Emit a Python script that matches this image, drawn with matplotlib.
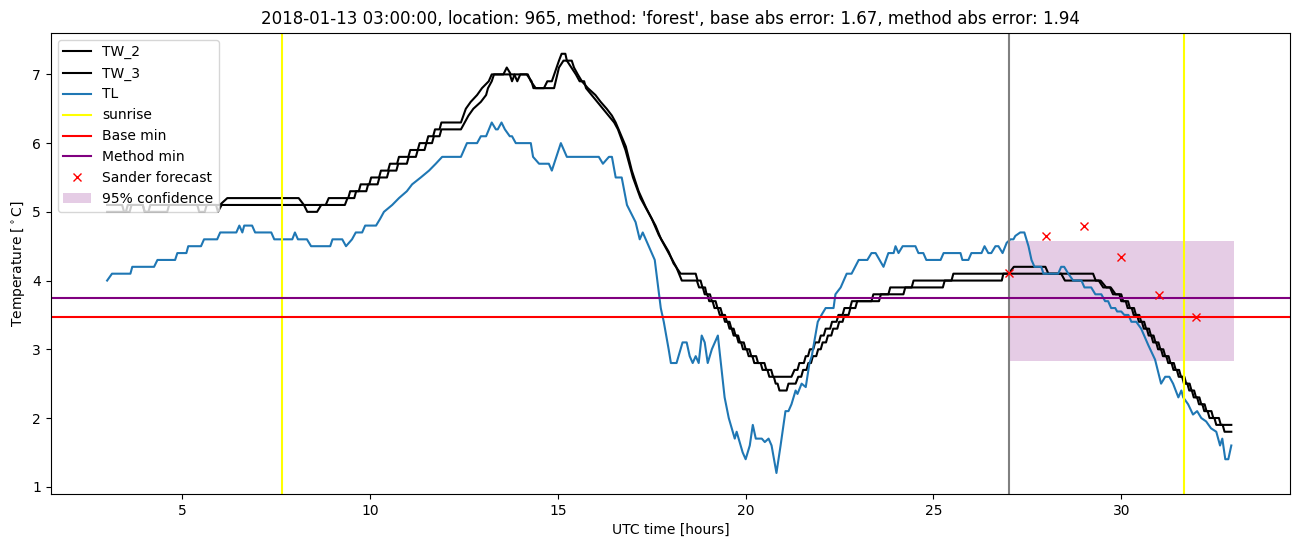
import matplotlib
matplotlib.use("Agg")
import matplotlib.pyplot as plt

# TL (blue) vertices: hours, temperature
tl_hours = [3.00, 3.13, 3.62, 3.67, 4.25, 4.34, 4.81, 4.87, 5.11, 5.16, 5.50, 5.58, 5.93, 6.01,
            6.44, 6.52, 6.60, 6.65, 6.86, 6.94, 7.37, 7.45, 7.93, 8.00, 8.08, 8.32, 8.43, 8.94,
            9.00, 9.26, 9.36, 9.52, 9.62, 9.79, 9.87, 10.16, 10.27, 10.37, 10.59, 10.77, 10.98,
            11.12, 11.35, 11.57, 11.75, 11.92, 12.42, 12.50, 12.58, 12.85, 12.95, 13.09, 13.24,
            13.35, 13.40, 13.50, 13.59, 13.72, 13.78, 13.88, 14.28, 14.34, 14.50, 14.76, 14.84,
            15.08, 15.24, 16.09, 16.20, 16.36, 16.44, 16.54, 16.70, 16.84, 17.07, 17.18, 17.26,
            17.58, 17.74, 17.82, 17.95, 18.01, 18.16, 18.32, 18.43, 18.51, 18.59, 18.67, 18.75,
            18.83, 18.91, 18.99, 19.10, 19.26, 19.34, 19.44, 19.55, 19.71, 19.76, 19.92, 20.00,
            20.11, 20.19, 20.27, 20.43, 20.51, 20.61, 20.69, 20.82, 20.93, 21.06, 21.14, 21.22,
            21.33, 21.38, 21.49, 21.60, 21.70, 21.76, 21.92, 22.02, 22.13, 22.34, 22.39, 22.53,
            22.69, 22.82, 23.01, 23.24, 23.35, 23.46, 23.67, 23.80, 23.94, 23.99, 24.07, 24.18,
            24.52, 24.60, 24.73, 24.81, 25.19, 25.27, 25.72, 25.77, 25.93, 26.01, 26.28, 26.36,
            26.46, 26.54, 26.65, 26.73, 26.84, 26.95, 27.05, 27.13, 27.18, 27.31, 27.42, 27.53,
            27.61, 27.69, 27.87, 27.93, 28.32, 28.40, 28.48, 28.59, 28.72, 28.94, 29.02, 29.20,
            29.31, 29.47, 29.57, 29.65, 29.73, 29.84, 29.89, 30.00, 30.08, 30.19, 30.27, 30.40,
            30.53, 30.72, 30.90, 31.06, 31.17, 31.28, 31.38, 31.52, 31.60, 31.65, 31.78, 31.91,
            32.02, 32.13, 32.26, 32.39, 32.53, 32.63, 32.69, 32.77, 32.85, 32.93]
tl_temp = [4.0, 4.1, 4.1, 4.2, 4.2, 4.3, 4.3, 4.4, 4.4, 4.5, 4.5, 4.6, 4.6, 4.7,
           4.7, 4.8, 4.7, 4.8, 4.8, 4.7, 4.7, 4.6, 4.6, 4.7, 4.6, 4.6, 4.5, 4.5,
           4.6, 4.6, 4.5, 4.6, 4.7, 4.7, 4.8, 4.8, 4.9, 5.0, 5.1, 5.2, 5.3,
           5.4, 5.5, 5.6, 5.7, 5.8, 5.8, 5.9, 6.0, 6.0, 6.1, 6.1, 6.3,
           6.2, 6.2, 6.3, 6.2, 6.1, 6.1, 6.0, 6.0, 5.8, 5.7, 5.7, 5.6,
           6.0, 5.8, 5.8, 5.7, 5.8, 5.8, 5.5, 5.5, 5.1, 4.85, 4.6, 4.7,
           4.3, 3.6, 3.4, 3.0, 2.8, 2.8, 3.1, 3.1, 2.9, 2.8, 2.9, 2.8,
           3.2, 3.1, 2.8, 3.0, 3.2, 2.8, 2.3, 2.0, 1.7, 1.8, 1.5, 1.4,
           1.6, 1.9, 1.7, 1.7, 1.65, 1.7, 1.6, 1.2, 1.6, 2.1, 2.1, 2.2,
           2.4, 2.35, 2.5, 2.45, 2.8, 2.9, 3.4, 3.5, 3.6, 3.6, 3.8, 3.9,
           4.1, 4.1, 4.3, 4.3, 4.4, 4.4, 4.2, 4.4, 4.4, 4.5, 4.4, 4.5,
           4.5, 4.4, 4.4, 4.3, 4.3, 4.4, 4.4, 4.3, 4.3, 4.4, 4.4, 4.5,
           4.4, 4.4, 4.5, 4.5, 4.4, 4.55, 4.6, 4.6, 4.65, 4.7, 4.7, 4.5,
           4.3, 4.2, 4.2, 4.1, 4.1, 4.2, 4.2, 4.1, 4.0, 4.0, 3.9, 3.9,
           3.8, 3.8, 3.7, 3.7, 3.6, 3.6, 3.55, 3.55, 3.5, 3.5, 3.4, 3.4,
           3.3, 3.06, 2.85, 2.5, 2.6, 2.6, 2.5, 2.3, 2.4, 2.3, 2.2, 2.05,
           2.1, 2.0, 1.95, 1.85, 1.8, 1.6, 1.7, 1.4, 1.4, 1.6]

# TW_2 vertices
tw2_hours = [3.00, 3.40, 3.45, 3.60, 3.65, 3.95, 4.00, 4.10, 4.15, 5.40, 5.45, 5.60, 5.65, 6.00,
             6.20, 8.10, 8.24, 8.82, 8.90, 9.42, 9.47, 9.70, 9.75, 9.98, 10.03, 10.24, 10.29,
             10.48, 10.53, 10.72, 10.77, 11.02, 11.07, 11.27, 11.32, 11.50, 11.55, 11.68, 11.73,
             11.85, 11.90, 12.42, 12.55, 12.68, 12.85, 12.98, 13.16, 13.24, 13.55, 13.64, 13.75,
             13.84, 13.92, 14.00, 14.20, 14.28, 14.41, 14.63, 14.72, 14.84, 15.03, 15.10, 15.20,
             15.24, 15.37, 15.43, 15.53, 15.64, 15.80, 16.00, 16.14, 16.30, 16.44, 16.54, 16.81,
             16.97, 17.15, 17.34, 17.50, 17.69, 17.95, 18.08, 18.27, 18.67, 18.72, 18.80, 18.85,
             18.92, 18.96, 19.05, 19.10, 19.20, 19.25, 19.33, 19.38, 19.45, 19.50, 19.57, 19.62,
             19.68, 19.73, 19.80, 19.85, 19.95, 20.00, 20.10, 20.15, 20.28, 20.33, 20.50, 20.55,
             20.68, 20.73, 21.22, 21.30, 21.38, 21.43, 21.55, 21.60, 21.66, 21.71, 21.80, 21.85,
             21.95, 22.00, 22.08, 22.13, 22.25, 22.30, 22.42, 22.47, 22.58, 22.63, 22.78, 22.83,
             23.35, 23.40, 23.80, 23.85, 24.42, 24.47, 25.48, 25.53, 27.00, 27.14, 27.98, 28.06,
             28.40, 28.50, 29.40, 29.52, 29.70, 29.78, 30.00, 30.05, 30.18, 30.23, 30.34, 30.39,
             30.48, 30.53, 30.61, 30.66, 30.74, 30.79, 30.86, 30.91, 30.99, 31.04, 31.12, 31.17,
             31.26, 31.31, 31.40, 31.45, 31.54, 31.59, 31.68, 31.73, 31.82, 31.87, 31.94, 31.99,
             32.08, 32.13, 32.22, 32.27, 32.40, 32.45, 32.60, 32.65, 32.93]
tw2_temp = [5.1, 5.1, 5.0, 5.0, 5.1, 5.1, 5.0, 5.0, 5.1, 5.1, 5.0, 5.0, 5.1, 5.1,
            5.2, 5.2, 5.1, 5.1, 5.2, 5.2, 5.3, 5.3, 5.4, 5.4, 5.5, 5.5, 5.6,
            5.6, 5.7, 5.7, 5.8, 5.8, 5.9, 5.9, 6.0, 6.0, 6.1, 6.1, 6.2,
            6.2, 6.3, 6.3, 6.5, 6.6, 6.7, 6.8, 6.9, 7.0, 7.0, 7.1, 7.0,
            7.0, 6.9, 7.0, 7.0, 6.9, 6.8, 6.8, 6.9, 6.9, 7.2, 7.3, 7.3,
            7.2, 7.2, 7.1, 7.0, 6.9, 6.8, 6.7, 6.6, 6.5, 6.4, 6.3, 5.95,
            5.6, 5.3, 5.07, 4.9, 4.66, 4.42, 4.25, 4.1, 4.1, 4.0, 4.0, 3.9,
            3.9, 3.8, 3.8, 3.7, 3.7, 3.6, 3.6, 3.5, 3.5, 3.4, 3.4, 3.3,
            3.3, 3.2, 3.2, 3.1, 3.1, 3.0, 3.0, 2.9, 2.9, 2.8, 2.8, 2.7,
            2.7, 2.6, 2.6, 2.7, 2.7, 2.8, 2.8, 2.9, 2.9, 3.0, 3.0, 3.1,
            3.1, 3.2, 3.2, 3.3, 3.3, 3.4, 3.4, 3.5, 3.5, 3.6, 3.6, 3.7,
            3.7, 3.8, 3.8, 3.9, 3.9, 4.0, 4.0, 4.1, 4.1, 4.2, 4.2, 4.1,
            4.1, 4.0, 4.0, 3.9, 3.9, 3.8, 3.8, 3.7, 3.7, 3.6, 3.6, 3.5,
            3.5, 3.4, 3.4, 3.3, 3.3, 3.2, 3.2, 3.1, 3.1, 3.0, 3.0, 2.9,
            2.9, 2.8, 2.8, 2.7, 2.7, 2.6, 2.6, 2.5, 2.5, 2.4, 2.4, 2.3,
            2.3, 2.2, 2.2, 2.1, 2.1, 2.0, 2.0, 1.9, 1.9]

# TW_3 vertices
tw3_hours = [3.00, 3.50, 3.55, 3.95, 4.00, 4.60, 4.65, 5.90, 5.95, 6.05, 8.24, 8.33, 8.59, 8.70,
             9.33, 9.40, 9.58, 9.63, 9.90, 9.95, 10.20, 10.25, 10.45, 10.50, 10.70, 10.75, 10.98,
             11.03, 11.22, 11.27, 11.45, 11.50, 11.65, 11.70, 11.85, 11.90, 12.42, 12.62,
             12.75, 12.95, 13.09, 13.14, 13.24, 13.30, 13.72, 13.78, 13.85, 14.17, 14.30, 14.35,
             14.90, 15.03, 15.15, 15.24, 15.36, 15.48, 15.58, 15.70, 15.75, 15.90, 16.05, 16.20,
             16.35, 16.50, 16.60, 16.80, 17.00, 17.20, 17.40, 17.60, 17.75, 18.00, 18.15, 18.30,
             18.70, 18.76, 18.86, 18.91, 18.98, 19.03, 19.12, 19.17, 19.26, 19.31, 19.40, 19.45,
             19.52, 19.57, 19.63, 19.68, 19.76, 19.81, 19.88, 19.93, 20.03, 20.08, 20.18, 20.23,
             20.40, 20.45, 20.58, 20.63, 20.75, 20.80, 20.85, 20.90, 21.09, 21.14, 21.33, 21.40,
             21.48, 21.53, 21.62, 21.67, 21.74, 21.79, 21.88, 21.93, 22.00, 22.05, 22.14, 22.19,
             22.28, 22.33, 22.44, 22.49, 22.58, 22.63, 22.74, 22.79, 22.92, 22.97, 23.55, 23.60,
             24.20, 24.25, 25.25, 25.30, 26.82, 26.86, 29.25, 29.32, 29.45, 29.60, 29.72, 29.85,
             29.95, 30.00, 30.12, 30.17, 30.28, 30.33, 30.42, 30.47, 30.55, 30.60, 30.68, 30.73,
             30.80, 30.85, 30.93, 30.98, 31.06, 31.11, 31.20, 31.25, 31.34, 31.39, 31.48, 31.53,
             31.62, 31.67, 31.76, 31.81, 31.88, 31.93, 32.02, 32.07, 32.16, 32.21, 32.30, 32.35,
             32.48, 32.53, 32.70, 32.75, 32.93]
tw3_temp = [5.0, 5.0, 5.1, 5.1, 5.0, 5.0, 5.1, 5.1, 5.0, 5.1, 5.1, 5.0, 5.0, 5.1,
            5.1, 5.2, 5.2, 5.3, 5.3, 5.4, 5.4, 5.5, 5.5, 5.6, 5.6, 5.7, 5.7,
            5.8, 5.8, 5.9, 5.9, 6.0, 6.0, 6.1, 6.1, 6.2, 6.2, 6.4,
            6.5, 6.6, 6.7, 6.8, 6.9, 7.0, 7.0, 6.9, 7.0, 7.0, 6.9, 6.8,
            6.8, 7.1, 7.2, 7.2, 7.1, 7.0, 6.9, 6.9, 6.8, 6.7, 6.6, 6.5,
            6.4, 6.3, 6.2, 5.9, 5.5, 5.2, 5.0, 4.8, 4.6, 4.35, 4.2, 4.0,
            4.0, 3.9, 3.9, 3.8, 3.8, 3.7, 3.7, 3.6, 3.6, 3.5, 3.5, 3.4,
            3.4, 3.3, 3.3, 3.2, 3.2, 3.1, 3.1, 3.0, 3.0, 2.9, 2.9, 2.8,
            2.8, 2.7, 2.7, 2.6, 2.6, 2.5, 2.5, 2.4, 2.4, 2.5, 2.5, 2.6,
            2.6, 2.7, 2.7, 2.8, 2.8, 2.9, 2.9, 3.0, 3.0, 3.1, 3.1, 3.2,
            3.2, 3.3, 3.3, 3.4, 3.4, 3.5, 3.5, 3.6, 3.6, 3.7, 3.7, 3.8,
            3.8, 3.9, 3.9, 4.0, 4.0, 4.1, 4.1, 4.0, 4.0, 3.9, 3.9, 3.8,
            3.8, 3.7, 3.7, 3.6, 3.6, 3.5, 3.5, 3.4, 3.4, 3.3, 3.3, 3.2,
            3.2, 3.1, 3.1, 3.0, 3.0, 2.9, 2.9, 2.8, 2.8, 2.7, 2.7, 2.6,
            2.6, 2.5, 2.5, 2.4, 2.4, 2.3, 2.3, 2.2, 2.2, 2.1, 2.1, 2.0,
            2.0, 1.9, 1.9, 1.8, 1.8]

sunrise_hours = [7.66, 31.66]
forecast_start = 27
base_min = 3.47
method_min = 3.74
sander_hours = [27, 28, 29, 30, 31, 32]
sander_temp = [4.11, 4.65, 4.79, 4.34, 3.79, 3.47]
conf_hours = [27, 33]
conf_low = 2.83
conf_high = 4.57

fig, ax = plt.subplots(figsize=(13.02, 5.47), dpi=100)
fig.subplots_adjust(left=0.039, right=0.991, top=0.94, bottom=0.097)

ax.plot(tw2_hours, tw2_temp, color='black', label='TW_2')
ax.plot(tw3_hours, tw3_temp, color='black', label='TW_3')
ax.plot(tl_hours, tl_temp, color='tab:blue', label='TL')
ax.axvline(sunrise_hours[0], color='yellow', label='sunrise')
ax.axvline(sunrise_hours[1], color='yellow')
ax.axvline(forecast_start, color='gray')
ax.axhline(base_min, color='red', label='Base min')
ax.axhline(method_min, color='purple', label='Method min')
ax.plot(sander_hours, sander_temp, 'rx', label='Sander forecast')
ax.fill_between(conf_hours, conf_low, conf_high, color='purple', alpha=0.2,
                linewidth=0, label='95% confidence')

ax.set_title("2018-01-13 03:00:00, location: 965, method: 'forest', "
             "base abs error: 1.67, method abs error: 1.94")
ax.set_xlabel('UTC time [hours]')
ax.set_ylabel(r'Temperature [$^\circ$C]')
ax.legend(loc='upper left')

fig.savefig('out.png')
